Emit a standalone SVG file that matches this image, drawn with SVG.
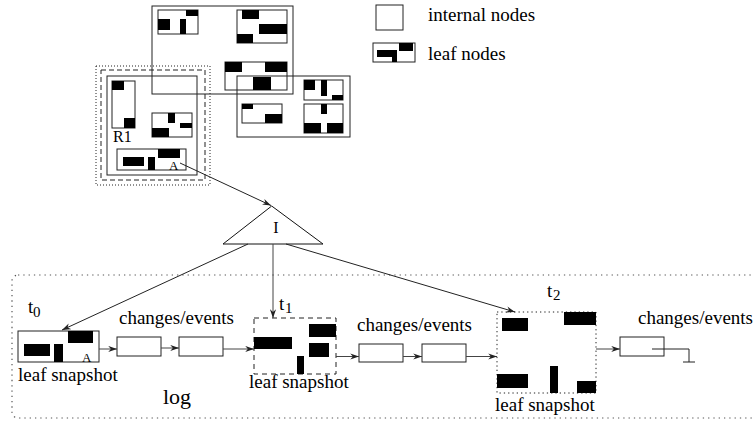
<svg xmlns="http://www.w3.org/2000/svg" width="754" height="422" viewBox="0 0 754 422">
<defs>
<style>
.box{fill:none;stroke:#222;stroke-width:1}
.wbox{fill:#fff;stroke:#222;stroke-width:1}
.blk{fill:#000}
.t{font-family:"Liberation Serif","Times New Roman",serif;fill:#000}
.c{stroke:#222;stroke-width:1;fill:none}
.h{stroke:#444;stroke-width:1;fill:none}
</style>
<marker id="ah" viewBox="0 0 10 8" refX="10" refY="4" markerWidth="9" markerHeight="7" markerUnits="userSpaceOnUse" orient="auto">
<path d="M0,0.5 L10,4 L0,7.5 L3,4 z" fill="#222"/>
</marker>
</defs>
<rect width="754" height="422" fill="#fff"/>

<g id="legend">
<rect class="box" x="376" y="5" width="27" height="25" stroke="#555"/>
<text class="t" x="428" y="20.5" font-size="19">internal nodes</text>
<rect class="box" x="373" y="43" width="42" height="19"/>
<rect class="blk" x="399" y="43" width="14" height="8"/>
<rect class="blk" x="377" y="50" width="15" height="7"/>
<rect class="blk" x="392" y="50" width="5" height="12"/>
<text class="t" x="428" y="59.5" font-size="19">leaf nodes</text>
</g>

<g id="internal-top">
<rect class="box" x="152" y="6" width="141" height="88"/>
<rect class="box" x="158" y="10" width="40" height="24"/>
<rect class="blk" x="186" y="10" width="12" height="6"/>
<rect class="blk" x="158" y="19" width="12" height="11"/>
<rect class="blk" x="180" y="19" width="6" height="15"/>
<rect class="box" x="237" y="10" width="50" height="33"/>
<rect class="blk" x="242" y="10" width="17" height="9"/>
<rect class="blk" x="259" y="24" width="28" height="10"/>
<rect class="blk" x="237" y="34" width="16" height="9"/>
<rect class="box" x="225" y="62" width="62" height="28"/>
<rect class="blk" x="225" y="62" width="17" height="10"/>
<rect class="blk" x="265" y="62" width="22" height="10"/>
<rect class="blk" x="253" y="77" width="18" height="13"/>
</g>

<g id="internal-right">
<rect class="box" x="237" y="76" width="113" height="61"/>
<rect class="box" x="304" y="80" width="39" height="20"/>
<rect class="blk" x="304" y="80" width="11" height="10"/>
<rect class="blk" x="321" y="80" width="6" height="16"/>
<rect class="blk" x="332" y="95" width="11" height="5"/>
<rect class="box" x="304" y="104" width="39" height="29"/>
<rect class="blk" x="321" y="104" width="6" height="10"/>
<rect class="blk" x="304" y="123" width="17" height="10"/>
<rect class="blk" x="327" y="123" width="16" height="10"/>
<rect class="box" x="242" y="104" width="40" height="19"/>
<rect class="blk" x="242" y="104" width="11" height="5"/>
<rect class="blk" x="265" y="114" width="17" height="9"/>
</g>

<g id="internal-R1">
<rect class="box" x="96" y="66" width="114" height="119" stroke="#444" stroke-dasharray="1 2"/>
<rect class="box" x="101" y="70" width="104" height="110" stroke="#444" stroke-dasharray="5 3"/>
<rect class="box" x="107" y="76" width="90" height="99"/>
<rect class="box" x="112" y="81" width="23" height="47"/>
<rect class="blk" x="112" y="81" width="12" height="9"/>
<rect class="blk" x="124" y="118" width="11" height="10"/>
<text class="t" x="113" y="141.5" font-size="16">R1</text>
<rect class="box" x="152" y="113" width="40" height="24"/>
<rect class="blk" x="168" y="113" width="7" height="10"/>
<rect class="blk" x="180" y="123" width="12" height="5"/>
<rect class="blk" x="152" y="128" width="17" height="9"/>
<rect class="box" x="117" y="149" width="69" height="21"/>
<rect class="blk" x="158" y="149" width="22" height="9"/>
<rect class="blk" x="123" y="157" width="21" height="9"/>
<rect class="blk" x="148" y="157" width="7" height="13"/>
<text class="t" x="169" y="170" font-size="13">A</text>
</g>

<g id="index-I">
<polygon points="271.7,206 223,244 323,244" fill="#fff" stroke="#111" stroke-width="1"/>
<text class="t" x="276" y="232.5" font-size="16" text-anchor="middle">I</text>
</g>

<g id="log">
<rect x="12" y="275" width="760" height="143" rx="6" fill="none" stroke="#555" stroke-width="1.2" stroke-dasharray="1.3 4"/>
<text class="t" x="163" y="404" font-size="22">log</text>
</g>

<g id="snapshot-t0">
<rect class="box" x="18" y="331" width="81" height="31"/>
<rect class="blk" x="68" y="331" width="25" height="12"/>
<rect class="blk" x="24" y="344" width="26" height="12"/>
<rect class="blk" x="54" y="344" width="9" height="18"/>
<text class="t" x="82" y="361.5" font-size="13">A</text>
<text class="t" x="28" y="313" font-size="19">t</text>
<text class="t" x="33" y="316.5" font-size="15">0</text>
<text class="t" x="18" y="381" font-size="19">leaf snapshot</text>
</g>

<g id="events-1">
<rect class="box" x="117" y="337" width="44" height="19"/>
<rect class="box" x="179" y="337" width="44" height="19"/>
<text class="t" x="119" y="324" font-size="19">changes/events</text>
</g>

<g id="snapshot-t1">
<rect class="box" x="254" y="318" width="82" height="56" stroke="#333" stroke-dasharray="5 4"/>
<rect class="blk" x="254" y="337" width="38" height="12"/>
<rect class="blk" x="309" y="324" width="27" height="13"/>
<rect class="blk" x="309" y="343" width="20" height="14"/>
<rect class="blk" x="297" y="356" width="7" height="18"/>
<text class="t" x="279" y="310" font-size="19">t</text>
<text class="t" x="285" y="313" font-size="15">1</text>
<text class="t" x="249" y="388" font-size="19">leaf snapshot</text>
</g>

<g id="events-2">
<rect class="box" x="359" y="344" width="44" height="18"/>
<rect class="box" x="422" y="344" width="44" height="18"/>
<text class="t" x="357" y="331" font-size="19">changes/events</text>
</g>

<g id="snapshot-t2">
<rect class="box" x="497" y="312" width="99" height="81" stroke="#333" stroke-width="1.2" stroke-dasharray="1.3 3"/>
<rect class="blk" x="502" y="318" width="26" height="13"/>
<rect class="blk" x="564" y="312" width="32" height="13"/>
<rect class="blk" x="497" y="374" width="31" height="14"/>
<rect class="blk" x="550" y="366" width="8" height="27"/>
<rect class="blk" x="577" y="381" width="19" height="12"/>
<text class="t" x="547" y="296.5" font-size="19">t</text>
<text class="t" x="553" y="299.5" font-size="15">2</text>
<text class="t" x="495" y="411" font-size="19">leaf snapshot</text>
</g>

<g id="events-3">
<rect class="box" x="620" y="337" width="44" height="19"/>
<text class="t" x="638" y="324" font-size="19">changes/events</text>
<path class="c" d="M652,349 H689 V362 M683,362 H695"/>
</g>

<g id="connectors">
<line class="c" x1="180" y1="163" x2="271" y2="205.5" marker-end="url(#ah)"/>
<line class="h" x1="273" y1="244" x2="273" y2="318" marker-end="url(#ah)"/>
<line class="c" x1="248" y1="244" x2="62" y2="330" marker-end="url(#ah)"/>
<line class="c" x1="286" y1="244" x2="515" y2="312" marker-end="url(#ah)"/>
<line class="h" x1="99" y1="349" x2="117" y2="349" marker-end="url(#ah)"/>
<line class="h" x1="161" y1="348" x2="179" y2="348" marker-end="url(#ah)"/>
<line class="h" x1="223" y1="349" x2="254" y2="349" marker-end="url(#ah)"/>
<line class="h" x1="336" y1="356.5" x2="359" y2="356.5" marker-end="url(#ah)"/>
<line class="h" x1="403" y1="356.5" x2="422" y2="356.5" marker-end="url(#ah)"/>
<line class="h" x1="466" y1="356.5" x2="497" y2="356.5" marker-end="url(#ah)"/>
<line class="h" x1="596" y1="349" x2="620" y2="349" marker-end="url(#ah)"/>
</g>
</svg>
